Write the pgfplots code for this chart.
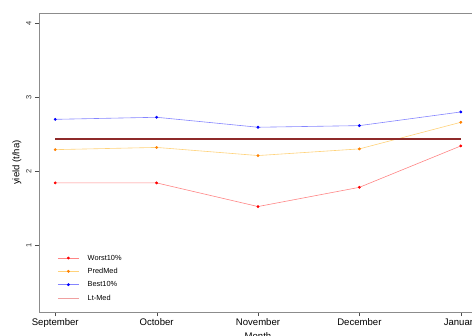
\documentclass[border=0pt]{standalone}
\usepackage{fontspec}
\setmainfont{Liberation Sans}
\usepackage{pgfplots}
\pgfplotsset{compat=1.18}
\definecolor{wline}{HTML}{FF8585}
\definecolor{pline}{HTML}{FFD27A}
\definecolor{bline}{HTML}{8585FF}
\definecolor{ltmed}{HTML}{8E2A2A}
\definecolor{ltleg}{HTML}{F0A0A0}
\begin{document}
\begin{tikzpicture}
\begin{axis}[name=ax,
  width=438bp, height=299bp, scale only axis,
  xmin=0.84, xmax=5.16, ymin=0.093, ymax=4.139,
  xtick={1,2,3,4,5},
  xticklabels={September,October,November,December,January},
  ytick={1,2,3,4},
  xtick pos=bottom, ytick pos=left,
  /pgf/number format/assume math mode=true,
  yticklabel style={rotate=90, anchor=south, font=\fontsize{7.5}{8}\selectfont, text=black!80},
  xticklabel style={font=\fontsize{9.6}{11}\selectfont, yshift=1bp},
  axis line style={black!45},
  tick style={black!70},
  tick align=outside,
  major tick length=4bp,
  xlabel={Month}, ylabel={yield (t/ha)},
  xlabel style={font=\fontsize{9.6}{11}\selectfont, yshift=2bp},
  ylabel style={font=\fontsize{9.6}{11}\selectfont, yshift=-2bp},
  legend cell align=left,
  legend image code/.code={\draw[mark repeat=2,mark phase=2,#1] plot coordinates {(0bp,0bp) (10.5bp,0bp) (21bp,0bp)};},
  legend style={draw=none, fill=none, at={(0.035,0.21)}, anchor=north west,
    font=\fontsize{7.4}{9}\selectfont,
    nodes={text height=6.5bp, text depth=2bp, inner sep=2.4bp},
    /tikz/every odd column/.append style={column sep=6bp}},
]
\addplot[color=wline, line width=0.6bp, mark=*, mark size=1.1bp, mark options={draw=red, fill=red}]
  coordinates {(1,1.84) (2,1.84) (3,1.52) (4,1.78) (5,2.34)};
\addlegendentry{Worst10\%}
\addplot[color=pline, line width=0.6bp, mark=*, mark size=1.1bp, mark options={draw=orange, fill=orange}]
  coordinates {(1,2.29) (2,2.32) (3,2.21) (4,2.30) (5,2.66)};
\addlegendentry{PredMed}
\addplot[color=bline, line width=0.6bp, mark=*, mark size=1.1bp, mark options={draw=blue, fill=blue}]
  coordinates {(1,2.70) (2,2.728) (3,2.593) (4,2.615) (5,2.80)};
\addlegendentry{Best10\%}
\addplot[color=ltmed, line width=1.6bp, forget plot]
  coordinates {(1,2.434) (2,2.434) (3,2.434) (4,2.434) (5,2.434)};
\addlegendimage{color=ltleg, line width=0.8bp}
\addlegendentry{Lt-Med}
\end{axis}
\pgfresetboundingbox
\path ([shift={(-39bp,-24bp)}]ax.south west) rectangle ([shift={(-5bp,13bp)}]ax.north east);
\end{tikzpicture}
\end{document}
